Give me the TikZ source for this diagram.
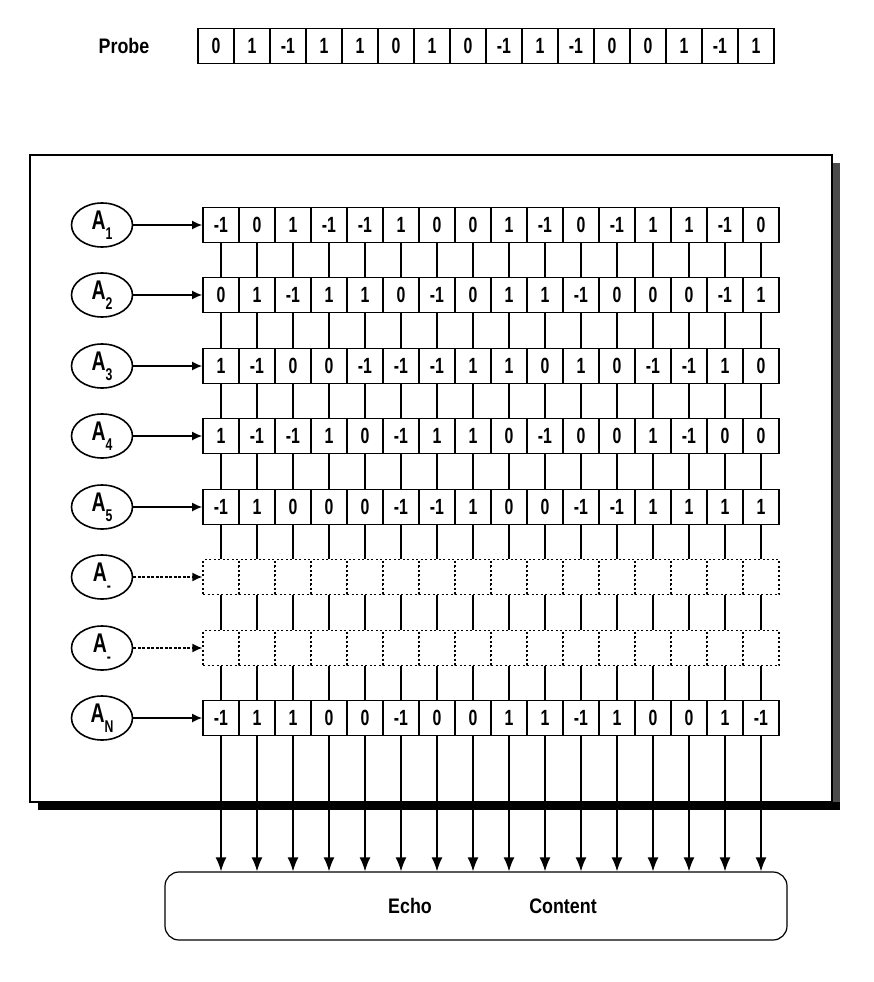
\documentclass[tikz,border=0pt]{standalone}
\usepackage{fontspec}
\setmainfont{Liberation Sans}
\newfontfamily\cf{Liberation Sans}[FakeStretch=0.72]
\newfontfamily\cg{Liberation Sans}[FakeStretch=0.85]
\usetikzlibrary{arrows.meta,shapes.geometric}
\tikzset{
  cellbox/.style={draw, line width=1.6pt, minimum width=36pt, minimum height=35pt, inner sep=0pt, font=\cf\bfseries\fontsize{22}{22}\selectfont, fill=white},
  dcellbox/.style={draw, line width=1.2pt, dash pattern=on 2pt off 2.5pt, minimum width=36pt, minimum height=35pt, inner sep=0pt, fill=white},
  ellbox/.style={ellipse, draw, line width=1.6pt, minimum width=61pt, minimum height=44pt, inner sep=0pt, font=\cf\bfseries\fontsize{27}{27}\selectfont},
  feed/.style={line width=1.6pt, -{Latex[length=10pt,width=9pt]}},
  dfeed/.style={line width=1.6pt, dash pattern=on 3pt off 1.5pt, -{Latex[length=10pt,width=9pt]}},
  vlink/.style={line width=1.5pt},
  lbl/.style={font=\cg\bfseries\fontsize{21}{21}\selectfont},
}
\newcommand{\mycellrow}[3]{%
  \foreach \v [count=\j] in {#3} {
    \node[cellbox] (r#1c\j) at ({221+36*(\j-1)}, #2) {\v};
  }%
}
\newcommand{\mydotrow}[2]{%
  \foreach \j in {1,...,16} {
    \node[dcellbox] (r#1c\j) at ({221+36*(\j-1)}, #2) {};
  }%
}
\newcommand{\mysub}[1]{\raisebox{-0.7ex}{\fontsize{17}{17}\selectfont #1}}
\begin{document}
\begin{tikzpicture}[x=1pt,y=-1pt]
\useasboundingbox (0,0) rectangle (874,982);
% probe
\node[lbl] (probelbl) at (124,46) {Probe};
\foreach \v [count=\j] in {0,1,-1,1,1,0,1,0,-1,1,-1,0,0,1,-1,1} {
  \node[cellbox, line width=1.3pt] (p\j) at ({216+36*(\j-1)}, 46) {\v};
}
% main frame with shadow
\fill[black!70] (38,163) rectangle (840,810);
\fill[black] (38,802) rectangle (840,810);
\draw[line width=1.2pt, fill=white] (30,155) rectangle (832,802);
% rows
\mycellrow{1}{225}{-1,0,1,-1,-1,1,0,0,1,-1,0,-1,1,1,-1,0}
\mycellrow{2}{295}{0,1,-1,1,1,0,-1,0,1,1,-1,0,0,0,-1,1}
\mycellrow{3}{366}{1,-1,0,0,-1,-1,-1,1,1,0,1,0,-1,-1,1,0}
\mycellrow{4}{436}{1,-1,-1,1,0,-1,1,1,0,-1,0,0,1,-1,0,0}
\mycellrow{5}{507}{-1,1,0,0,0,-1,-1,1,0,0,-1,-1,1,1,1,1}
\mydotrow{6}{577}
\mydotrow{7}{648}
\mycellrow{8}{718}{-1,1,1,0,0,-1,0,0,1,1,-1,1,0,0,1,-1}
% ellipses
\node[ellbox] (e1) at (102,225) {A\mysub{1}};
\node[ellbox] (e2) at (102,295) {A\mysub{2}};
\node[ellbox] (e3) at (102,366) {A\mysub{3}};
\node[ellbox] (e4) at (102,436) {A\mysub{4}};
\node[ellbox] (e5) at (102,507) {A\mysub{5}};
\node[ellbox] (e6) at (102,577) {A\mysub{-}};
\node[ellbox] (e7) at (102,648) {A\mysub{-}};
\node[ellbox] (e8) at (102,718) {A\mysub{N}};
\foreach \r in {1,2,3,4,5,8} { \draw[feed] (e\r) -- (r\r c1); }
\foreach \r in {6,7} { \draw[dfeed] (e\r) -- (r\r c1); }
% vertical links between rows
\foreach \r [evaluate=\r as \n using int(\r+1)] in {1,...,7} {
  \foreach \j in {1,...,16} { \draw[vlink] (r\r c\j.south) -- (r\n c\j.north); }
}
% echo box
\node[draw, line width=1.2pt, rounded corners=14pt, minimum width=622pt, minimum height=68pt] (echo) at (476,906) {};
\node[lbl] (echotxt) at (410,906) {Echo};
\node[lbl] (contenttxt) at (563,906) {Content};
\foreach \j in {1,...,16} {
  \draw[vlink, -{Latex[length=14pt,width=11pt]}] (r8c\j.south) -- (r8c\j.south |- echo.north);
}
\end{tikzpicture}
\end{document}
